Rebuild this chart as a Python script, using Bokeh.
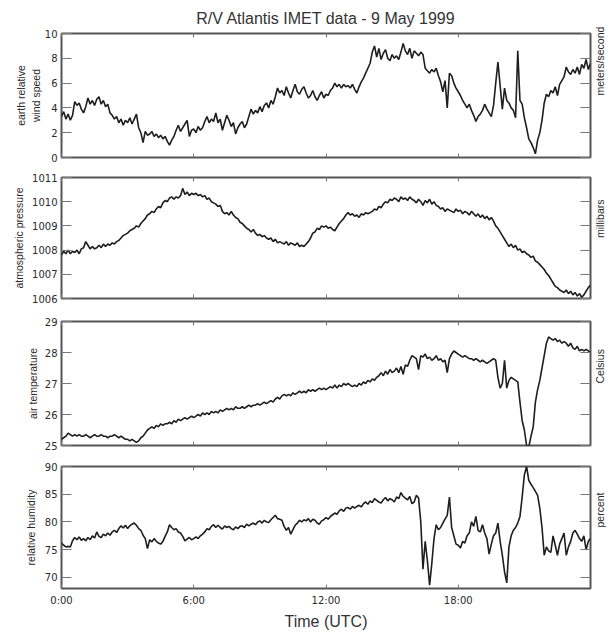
import math
import numpy as np
from bokeh.plotting import figure
from bokeh.models import LinearAxis, FixedTicker, Range1d, CustomJSTickFormatter
from bokeh.layouts import column
from bokeh.embed import file_html
from bokeh.resources import INLINE

# sample times (hours UTC), every 6 minutes
hours = np.round(np.arange(241) * 0.1, 1)

wind_speed = [
    3.3, 3.7, 3.1, 3.5, 3.0, 3.4, 4.5, 4.2, 4.4, 3.9,
    3.6, 4.1, 4.8, 4.3, 4.6, 4.2, 4.7, 4.9, 4.3, 4.6,
    4.1, 4.3, 3.6, 3.4, 3.1, 3.3, 2.8, 3.1, 2.6, 3.0,
    2.8, 3.2, 2.7, 3.1, 3.5, 2.4, 2.0, 1.2, 2.1, 1.8,
    1.9, 2.1, 1.7, 1.9, 1.6, 1.8, 1.5, 1.7, 1.3, 1.0,
    1.4, 1.7, 2.2, 2.6, 2.1, 2.4, 2.7, 3.0, 1.7, 2.2,
    2.3, 2.0, 2.5, 2.2, 2.4, 2.9, 3.3, 2.8, 3.1, 2.9,
    3.6, 2.8, 3.1, 2.2, 2.8, 3.4, 3.0, 2.5, 2.8, 1.9,
    2.4, 2.7, 2.9, 2.4, 2.7, 3.3, 3.9, 3.5, 3.8, 3.6,
    4.1, 3.7, 4.2, 4.4, 4.0, 4.6, 4.3, 4.9, 5.6, 5.2,
    5.4, 5.0, 5.7, 5.2, 4.8, 5.4, 5.9, 5.3, 5.1, 5.5,
    5.7, 5.2, 4.8, 5.0, 5.4, 4.9, 4.6, 5.0, 5.3, 4.8,
    5.1, 5.0, 5.4, 5.6, 6.0, 5.7, 5.9, 5.6, 5.9, 5.7,
    5.8, 5.6, 5.9, 5.5, 5.2, 5.7, 6.1, 6.4, 6.8, 7.2,
    7.6, 8.5, 9.0, 8.1, 8.8, 7.9, 8.4, 8.7, 8.0, 7.8,
    8.3, 8.0, 8.2, 7.9, 8.5, 9.2, 8.6, 8.3, 8.8, 8.0,
    8.6, 8.4, 8.2, 8.5, 8.3, 7.2, 7.0, 6.8, 7.1, 6.9,
    7.2, 6.6, 6.1, 5.3, 6.2, 4.0, 6.8, 6.6, 6.0, 5.6,
    5.3, 5.0, 4.6, 4.3, 4.0, 4.3, 3.8, 3.4, 2.9, 3.3,
    3.5, 3.8, 4.3, 3.9, 3.6, 3.3, 4.2, 6.0, 7.7, 5.8,
    3.9, 5.6, 4.6, 4.4, 4.0, 3.8, 3.2, 8.6, 4.6, 4.3,
    3.2, 2.4, 1.5, 1.2, 0.8, 0.3, 1.4, 2.0, 3.0, 4.4,
    5.1, 4.9, 5.4, 5.2, 5.7, 5.0, 5.9, 6.2, 6.5, 7.3,
    6.9, 6.7, 7.1, 6.8, 7.3, 6.7, 7.5, 7.2, 7.9, 7.1,
    7.6,
]

pressure = [
    1007.8, 1007.95, 1007.85, 1008.0, 1007.85, 1007.95, 1007.9, 1008.0, 1007.85, 1008.05,
    1008.1, 1008.35, 1008.2, 1008.05, 1008.15, 1008.05, 1008.1, 1008.2, 1008.1, 1008.25,
    1008.15, 1008.25, 1008.2, 1008.3, 1008.25, 1008.35, 1008.4, 1008.5, 1008.6, 1008.65,
    1008.7, 1008.8, 1008.85, 1008.9, 1009.0, 1008.95, 1009.1, 1009.2, 1009.3, 1009.45,
    1009.5, 1009.6, 1009.55, 1009.7, 1009.8, 1009.75, 1009.95, 1010.05, 1010.0, 1010.15,
    1010.2, 1010.1, 1010.2, 1010.15, 1010.25, 1010.55, 1010.3, 1010.4, 1010.25, 1010.35,
    1010.3, 1010.35, 1010.25, 1010.3, 1010.2, 1010.25, 1010.1, 1010.15, 1010.0, 1009.95,
    1009.9, 1009.8, 1009.85, 1009.6, 1009.5, 1009.55, 1009.45, 1009.6, 1009.45, 1009.35,
    1009.3, 1009.15, 1009.1, 1009.0, 1008.9, 1008.85, 1008.75, 1008.85, 1008.7, 1008.6,
    1008.65, 1008.55, 1008.6, 1008.5, 1008.45, 1008.5, 1008.35, 1008.45, 1008.3, 1008.35,
    1008.3, 1008.25, 1008.35, 1008.2, 1008.3, 1008.25, 1008.2, 1008.3, 1008.15, 1008.2,
    1008.15, 1008.25, 1008.35, 1008.5, 1008.7, 1008.75, 1008.9, 1008.85, 1009.0, 1008.95,
    1009.0, 1008.9, 1008.95, 1008.85, 1008.8, 1008.95, 1009.1, 1009.2, 1009.3, 1009.45,
    1009.55, 1009.45, 1009.5, 1009.4, 1009.45, 1009.35, 1009.5, 1009.45, 1009.55, 1009.5,
    1009.55, 1009.6, 1009.7, 1009.65, 1009.8, 1009.75, 1009.9, 1010.0, 1009.95, 1010.1,
    1010.05, 1010.15, 1010.1, 1010.0, 1010.2, 1010.1, 1010.15, 1010.05, 1010.2, 1010.1,
    1010.05, 1009.95, 1010.1, 1010.0, 1009.85, 1010.05, 1009.95, 1010.1, 1009.9, 1010.0,
    1009.85, 1009.8, 1009.7, 1009.75, 1009.6, 1009.7, 1009.65, 1009.6, 1009.55, 1009.7,
    1009.6, 1009.65, 1009.5, 1009.6, 1009.55, 1009.45, 1009.6, 1009.5, 1009.4, 1009.5,
    1009.35, 1009.45, 1009.3, 1009.4, 1009.25, 1009.35, 1009.2, 1009.0, 1008.9, 1008.75,
    1008.6, 1008.45, 1008.3, 1008.15, 1008.25, 1008.1, 1008.2, 1008.0, 1008.05, 1007.9,
    1007.95, 1007.85, 1007.8, 1007.7, 1007.75, 1007.55, 1007.5, 1007.4, 1007.3, 1007.2,
    1007.05, 1006.95, 1006.8, 1006.65, 1006.5, 1006.45, 1006.35, 1006.3, 1006.25, 1006.35,
    1006.2, 1006.3, 1006.15, 1006.25, 1006.1, 1006.2, 1006.05, 1006.15, 1006.3, 1006.45,
    1006.55,
]

air_temperature = [
    25.2, 25.25, 25.3, 25.4, 25.35, 25.3, 25.35, 25.3, 25.35, 25.3,
    25.3, 25.35, 25.3, 25.25, 25.3, 25.35, 25.3, 25.3, 25.35, 25.3,
    25.3, 25.25, 25.3, 25.3, 25.35, 25.3, 25.25, 25.3, 25.25, 25.2,
    25.2, 25.15, 25.2, 25.15, 25.1, 25.15, 25.25, 25.3, 25.4, 25.5,
    25.55, 25.6, 25.55, 25.65, 25.6, 25.7, 25.65, 25.7, 25.7, 25.75,
    25.7, 25.8, 25.75, 25.85, 25.8, 25.85, 25.9, 25.85, 25.9, 25.95,
    25.9, 25.95, 26.0, 25.95, 26.05, 26.0, 26.05, 26.0, 26.1, 26.05,
    26.1, 26.05, 26.15, 26.1, 26.15, 26.2, 26.15, 26.2, 26.15, 26.25,
    26.2, 26.2, 26.25, 26.2, 26.25, 26.3, 26.25, 26.3, 26.3, 26.35,
    26.3, 26.35, 26.4, 26.35, 26.4, 26.45, 26.4, 26.5, 26.55, 26.5,
    26.6, 26.65, 26.6, 26.65, 26.6, 26.7, 26.65, 26.7, 26.75, 26.7,
    26.75, 26.7, 26.8, 26.75, 26.8, 26.75, 26.8, 26.85, 26.8, 26.85,
    26.8, 26.85, 26.9, 26.85, 26.95, 26.85, 26.95, 26.9, 27.0, 26.95,
    27.0, 26.95, 26.9, 26.95, 26.9, 27.0, 26.95, 27.05, 27.0, 27.1,
    27.05, 27.15, 27.1, 27.2, 27.25, 27.35, 27.25, 27.4, 27.3, 27.45,
    27.35, 27.4, 27.5, 27.35, 27.55, 27.3, 27.6, 27.55, 27.75, 27.9,
    27.85, 27.8, 27.45, 27.9, 27.85, 27.95, 27.8, 27.85, 27.75, 27.8,
    27.9, 27.75, 27.8, 27.7, 27.75, 27.35, 27.8, 27.95, 28.05, 28.0,
    27.95, 27.9, 27.85, 27.9, 27.85, 27.8, 27.8, 27.75, 27.8, 27.75,
    27.7, 27.75, 27.7, 27.65, 27.7, 27.75, 27.8, 27.75, 27.2, 26.85,
    27.0, 27.75, 26.85, 27.1, 27.2, 27.15, 27.1, 27.05, 26.4, 25.8,
    25.5, 25.0, 24.95, 25.3, 25.6, 26.4, 26.8, 27.1, 27.5, 27.9,
    28.3, 28.5, 28.45, 28.4, 28.45, 28.35, 28.4, 28.3, 28.35, 28.3,
    28.2, 28.3, 28.15, 28.1, 28.2, 28.05, 28.1, 28.05, 28.1, 28.05,
    28.0,
]

relative_humidity = [
    76.2, 75.8, 75.5, 75.6, 75.5, 76.6, 77.2, 76.8, 77.3, 76.7,
    77.0, 76.6, 77.2, 76.8, 77.5, 77.1, 78.2, 77.4, 77.2, 77.8,
    77.5, 78.0, 77.6, 78.2, 78.5, 78.1, 78.8, 79.3, 78.9, 79.4,
    78.8, 79.3, 79.6, 79.8, 79.4, 78.8, 78.5, 77.6, 77.0, 75.2,
    76.8, 76.4, 77.0, 76.5, 76.2, 76.0, 76.5, 77.4, 78.2, 79.5,
    79.0, 78.6, 78.8, 78.2, 78.0, 77.4, 76.6, 76.9, 77.2, 76.8,
    77.0, 77.3, 77.0, 77.5, 77.8, 78.2, 78.8, 78.6, 79.2, 79.5,
    79.0, 79.4, 79.0, 78.7, 79.3, 79.0, 79.2, 78.8, 78.6, 79.1,
    78.8, 79.2, 79.3, 79.0, 79.6, 79.3, 79.6, 79.8, 79.5, 80.0,
    80.2, 79.8, 80.3, 80.0, 79.9, 80.4, 80.8, 81.2, 80.6, 80.5,
    80.3, 79.2, 78.5, 79.0, 77.8, 78.6, 79.4, 79.8, 80.3, 80.0,
    80.4, 80.2, 80.6, 80.0, 80.5, 80.3, 79.8, 79.6, 80.2, 80.4,
    80.8, 80.5, 81.0, 81.3, 81.6, 81.4, 82.0, 82.3, 81.9, 82.5,
    82.6, 82.3, 82.8, 82.5, 82.8, 83.0, 82.7, 83.3, 83.6, 83.2,
    83.8, 83.5, 84.2, 83.9, 83.6, 83.4, 84.0, 84.4, 83.8, 84.2,
    84.0, 83.6, 84.5, 84.2, 85.3, 84.6, 84.3, 84.0, 84.6, 83.3,
    83.6, 84.8, 84.3, 80.0, 71.5, 76.5, 73.0, 68.6, 72.5, 77.0,
    79.5, 78.6, 79.0, 79.8, 80.5, 81.2, 84.5, 79.0, 77.5, 76.0,
    75.8, 75.3, 76.5, 76.2, 77.5, 78.0, 80.0, 79.2, 81.0, 78.5,
    78.2, 79.5, 78.0, 77.0, 74.2, 76.0, 77.5, 78.0, 79.8, 76.5,
    74.0, 71.0, 69.0, 75.5, 77.5, 78.5, 79.0, 79.8, 81.0, 84.5,
    88.5, 90.0, 87.5, 86.8, 86.2, 85.5, 84.8, 82.5, 79.0, 74.0,
    75.5, 74.8, 74.5, 77.5, 75.8, 74.0, 76.0, 77.0, 78.0, 74.0,
    75.5, 76.5, 78.0, 78.5, 77.8, 77.0, 76.5, 77.5, 75.0, 76.5,
    77.0,
]

x_ticks = [0, 6, 12, 18]
x_tick_labels = {0: "0:00", 6: "6:00", 12: "12:00", 18: "18:00"}

TICK_FONT = "DejaVu Sans"
LABEL_FONT = "Liberation Sans"
TEXT_COLOR = "#2a2a2a"
FRAME_COLOR = "#555555"
TICK_COLOR = "#777777"

blank = CustomJSTickFormatter(code="return ''")


def panel(values, y0, y1, yticks, left_label, right_label, height, top, bottom,
          label_standoff, last=False, title=None):
    p = figure(width=614, height=height, x_range=Range1d(0, 24),
               y_range=Range1d(y0, y1), output_backend="svg",
               toolbar_location=None, x_axis_location=None,
               y_axis_location=None, min_border_left=61, min_border_right=22,
               min_border_top=top, min_border_bottom=bottom)
    p.grid.visible = False
    p.outline_line_color = FRAME_COLOR
    p.outline_line_width = 2
    p.background_fill_color = "white"
    p.border_fill_color = "white"

    if title:
        p.title.text = title
        p.title.align = "center"
        p.title.text_font = LABEL_FONT
        p.title.text_font_size = "16px"
        p.title.text_font_style = "normal"
        p.title.text_color = "#333333"
        p.title.standoff = 13

    def style(ax, tick_in):
        ax.axis_line_color = None
        ax.major_tick_in = tick_in
        ax.major_tick_out = 0
        ax.major_tick_line_color = TICK_COLOR
        ax.major_tick_line_width = 1
        ax.minor_tick_line_color = None
        ax.major_label_text_font = TICK_FONT
        ax.major_label_text_font_size = "10px"
        ax.major_label_text_color = TEXT_COLOR
        ax.axis_label_text_font = LABEL_FONT
        ax.axis_label_text_font_size = "10.5px"
        ax.axis_label_text_font_style = "normal"
        ax.axis_label_text_color = TEXT_COLOR

    left = LinearAxis(ticker=FixedTicker(ticks=yticks), axis_label=left_label)
    style(left, 10)
    left.major_label_standoff = 4
    left.axis_label_standoff = label_standoff
    p.add_layout(left, "left")

    right = LinearAxis(ticker=FixedTicker(ticks=yticks), axis_label=right_label,
                       formatter=blank)
    style(right, 10)
    right.major_label_standoff = 0
    right.major_label_text_font_size = "1px"
    right.axis_label_standoff = 9
    right.axis_label_text_baseline = "top"
    try:
        right.axis_label_orientation = math.pi / 2
    except Exception:
        pass
    p.add_layout(right, "right")

    top_ax = LinearAxis(ticker=FixedTicker(ticks=x_ticks), formatter=blank)
    style(top_ax, 4)
    top_ax.major_label_standoff = 0
    top_ax.major_label_text_font_size = "1px"
    p.add_layout(top_ax, "above")

    bottom_ax = LinearAxis(ticker=FixedTicker(ticks=x_ticks))
    style(bottom_ax, 4)
    if last:
        bottom_ax.major_label_overrides = x_tick_labels
        bottom_ax.major_label_standoff = 6
        bottom_ax.axis_label = "Time (UTC)"
        bottom_ax.axis_label_text_font_size = "16px"
        bottom_ax.axis_label_standoff = 4
        bottom_ax.axis_label_text_color = "#333333"
    else:
        bottom_ax.formatter = blank
        bottom_ax.major_label_standoff = 0
        bottom_ax.major_label_text_font_size = "1px"
    p.add_layout(bottom_ax, "below")

    p.line(hours, values, line_color="#1e1e1e", line_width=1.6)
    return p


p1 = panel(wind_speed, 0, 10, [0, 2, 4, 6, 8, 10], "earth relative\nwind speed",
           "meters/second", 167, 33, 10, 0, title="R/V Atlantis IMET data - 9 May 1999")
p2 = panel(pressure, 1006, 1011, [1006, 1007, 1008, 1009, 1010, 1011],
           "atmospheric pressure", "millibars", 142, 10, 11, 4)
p3 = panel(air_temperature, 25, 29, [25, 26, 27, 28, 29], "air temperature",
           "Celsius", 146, 12, 10, 3)
p4 = panel(relative_humidity, 68, 90, [70, 75, 80, 85, 90], "relative humidity",
           "percent", 177, 11, 42, 5, last=True)

layout = column(p1, p2, p3, p4, spacing=0)
open("out.html", "w").write(file_html(layout, INLINE))
